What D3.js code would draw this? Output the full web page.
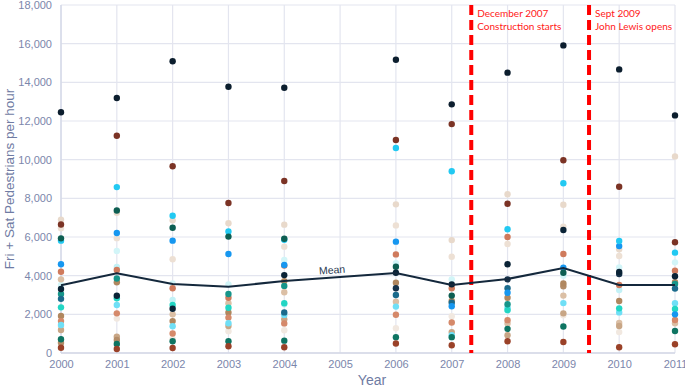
<!DOCTYPE html>
<html>
<head>
<meta charset="utf-8">
<script src="https://cdn.jsdelivr.net/npm/d3@7"></script>
<style>
  body { margin: 0; background: #fff; }
</style>
</head>
<body>
<div id="graph"></div>
<script>
// years on the x axis (no counts for 2005)
var years = [2000, 2001, 2002, 2003, 2004, 2005, 2006, 2007, 2008, 2009, 2010, 2011];
var yTicks = [0, 2000, 4000, 6000, 8000, 10000, 12000, 14000, 16000, 18000];

// one array per counting site, values per year (null = no count)
var navy       = [12450, 13190, 15090, 13770, 13720, null, 15170, 12860, 14500, 15910, 14670, 12290];
var brown      = [6650, 11240, 9660, 7760, 8900, null, 11020, 11840, 7720, 9970, 8600, 5730];
var cyan       = [5810, 8580, 7100, 6290, 5860, null, 10600, 9400, 6400, 8780, 5790, 5190];
var lightBeige = [6900, 7250, 6860, 6710, 6640, null, 7690, 5840, 8210, 7670, 5360, 10170];
var darkTeal   = [5930, 7370, 6480, 6020, 5910, null, 4460, 2970, null, 4150, null, null];
var blue       = [4590, 6210, 5810, 5120, 4550, null, 5760, 2420, 3120, 4410, 5530, 2000];
var paleBeige  = [6450, 5940, 4850, null, 5500, null, 6600, 4980, 5640, 6530, 5020, null];
var salmon     = [4200, 4290, 3350, 2860, 4520, null, 5100, 3350, 6000, 5120, 3520, 4260];
var paleCyan   = [3520, 5280, 3600, 3550, 4810, null, 4640, 3810, null, 4000, 4430, 4690];
var paleCyan2  = [null, 4450, 2740, null, 2520, null, null, null, 2200, null, 3260, null];
var navy2      = [3310, 2960, 2290, null, 4030, null, 4150, 3550, 4590, 6360, 4190, 3970];
var ink        = [null, null, null, null, null, null, 3350, null, 3810, null, 4090, null];
var tan        = [1910, 3660, 1650, 2100, 3720, null, 3640, 2690, 2860, 3600, 2690, 3660];
var teal       = [3050, 3850, null, 3050, 3470, null, null, null, 2520, null, null, 3570];
var tealBlue   = [2800, null, null, null, 2100, null, 3000, 2600, 3350, null, null, 3330];
var turquoise  = [2360, 2830, 2480, 2340, 2570, null, null, null, 2220, null, 2310, 2280];
var lightBlue  = [1450, 2480, 1380, 1540, 1970, null, 2400, 920, 2350, 2580, 2100, 2570];
var salmon2    = [1650, 2050, 1010, 1830, 1530, null, 1980, 1580, 1700, null, null, 1710];
var beige      = [3810, null, 2000, 2570, 3140, null, 2650, null, 1530, 2970, 1550, 1540];
var tan2       = [1190, 840, null, 1400, 1740, null, null, 1080, 920, 2050, 1400, null];
var tan3       = [530, 670, null, null, null, null, null, null, null, 3450, null, null];
var paleBeige3 = [1360, 1780, 730, 1130, 1180, null, 1280, 1900, null, 1950, 1080, null];
var darkTeal2  = [710, 470, 610, 610, 640, null, 820, 820, 1250, 1370, null, 1140];
var rust       = [270, 210, 260, 350, 300, null, 490, 400, 610, 570, 300, 450];

// mean of all sites per year
var meanValues = [3500, 4130, 3570, 3430, 3720, null, 4140, 3520, 3830, 4400, 3520, 3520];

// events marked with dashed lines (fractional year)
var events = [
  { year: 2007.35, lines: ["December 2007", "Construction starts"] },
  { year: 2009.46, lines: ["Sept 2009", "John Lewis opens"] }
];

var sites = [
  { values: paleBeige3, color: "#f1e8e0" },
  { values: paleCyan2,  color: "#c2f1f6" },
  { values: paleCyan,   color: "#d2f5f8" },
  { values: paleBeige,  color: "#ede0d4" },
  { values: lightBeige, color: "#e8d9cb" },
  { values: beige,      color: "#dbbfa5" },
  { values: tan2,       color: "#c8a686" },
  { values: tan3,       color: "#b38c68" },
  { values: tan,        color: "#b0875f" },
  { values: salmon2,    color: "#d5896a" },
  { values: salmon,     color: "#cf7a5c" },
  { values: lightBlue,  color: "#6fdff6" },
  { values: turquoise,  color: "#22d6c4" },
  { values: teal,       color: "#16958a" },
  { values: tealBlue,   color: "#1b6b8c" },
  { values: blue,       color: "#1697f0" },
  { values: cyan,       color: "#22c9f2" },
  { values: darkTeal2,  color: "#0e7462" },
  { values: darkTeal,   color: "#0d5e52" },
  { values: rust,       color: "#9a4128" },
  { values: brown,      color: "#7b3325" },
  { values: ink,        color: "#16324a" },
  { values: navy2,      color: "#0a2336" },
  { values: navy,       color: "#0c1e2e" }
];

var w = 685, h = 387;
var padLeft = 61, padRight = 675, padTop = 5, padBottom = 353;

var svg = d3.select("#graph").append("svg")
    .attr("width", w)
    .attr("height", h);

var xScale = d3.scaleLinear().domain([2000, 2011]).range([padLeft, padRight]);
var yScale = d3.scaleLinear().domain([0, 18000]).range([padBottom, padTop]);

// grid
svg.append("g").selectAll("line")
    .data(yTicks)
    .enter().append("line")
    .attr("x1", padLeft).attr("x2", padRight)
    .attr("y1", function(d) { return yScale(d); })
    .attr("y2", function(d) { return yScale(d); })
    .attr("stroke", "#e3e5ef")
    .attr("stroke-width", 1.2);

svg.append("g").selectAll("line")
    .data(years)
    .enter().append("line")
    .attr("x1", function(d) { return xScale(d); })
    .attr("x2", function(d) { return xScale(d); })
    .attr("y1", padTop).attr("y2", padBottom)
    .attr("stroke", "#e3e5ef")
    .attr("stroke-width", 1.2);

// axis lines
svg.append("line")
    .attr("x1", padLeft).attr("x2", padRight).attr("y1", padBottom).attr("y2", padBottom)
    .attr("stroke", "#d3d7e6").attr("stroke-width", 1.3);
svg.append("line")
    .attr("x1", padLeft).attr("x2", padLeft).attr("y1", padTop).attr("y2", padBottom)
    .attr("stroke", "#d3d7e6").attr("stroke-width", 1.3);

// axes
var yAxis = d3.axisLeft(yScale)
    .tickValues(yTicks)
    .tickFormat(d3.format(","))
    .tickSize(0)
    .tickPadding(9);

var xAxis = d3.axisBottom(xScale)
    .tickValues(years)
    .tickFormat(d3.format("d"))
    .tickSize(0)
    .tickPadding(7);

var gy = svg.append("g")
    .attr("transform", "translate(" + padLeft + ",0)")
    .call(yAxis);
var gx = svg.append("g")
    .attr("transform", "translate(0," + padBottom + ")")
    .call(xAxis);

[gx, gy].forEach(function(g) {
  g.select(".domain").remove();
  g.selectAll("text")
    .attr("fill", "#7b86ab")
    .style("font-family", "'Liberation Sans', Arial, sans-serif")
    .style("font-size", "11px");
});

// axis titles
svg.append("text")
    .attr("transform", "translate(9," + ((padTop + padBottom) / 2) + ") rotate(-90)")
    .attr("text-anchor", "middle")
    .attr("dy", "0.35em")
    .attr("fill", "#6f7ba3")
    .style("font-family", "'Liberation Sans', Arial, sans-serif")
    .style("font-size", "13.5px")
    .text("Fri + Sat Pedestrians per hour");

svg.append("text")
    .attr("x", (padLeft + padRight) / 2 + 4)
    .attr("y", 385)
    .attr("text-anchor", "middle")
    .attr("fill", "#6f7ba3")
    .style("font-family", "'Liberation Sans', Arial, sans-serif")
    .style("font-size", "14px")
    .text("Year");

// event lines
events.forEach(function(ev) {
  svg.append("line")
      .attr("x1", xScale(ev.year)).attr("x2", xScale(ev.year))
      .attr("y1", padTop).attr("y2", padBottom)
      .attr("stroke", "#ff0000")
      .attr("stroke-width", 4)
      .attr("stroke-dasharray", "10,5");

  var t = svg.append("text")
      .attr("x", xScale(ev.year) + 6)
      .attr("y", 17)
      .attr("fill", "#ff2020")
      .style("font-family", "Lato, 'Open Sans', sans-serif")
      .style("font-size", "10px");
  ev.lines.forEach(function(s, i) {
    t.append("tspan")
        .attr("x", xScale(ev.year) + 6)
        .attr("dy", i === 0 ? 0 : 12.5)
        .text(s);
  });
});

// site dots
var points = [];
sites.forEach(function(s) {
  s.values.forEach(function(v, i) {
    if (v != null) points.push({ year: years[i], value: v, color: s.color });
  });
});

svg.append("g").selectAll("circle")
    .data(points)
    .enter().append("circle")
    .attr("cx", function(d) { return xScale(d.year); })
    .attr("cy", function(d) { return yScale(d.value); })
    .attr("r", 3.2)
    .attr("fill", function(d) { return d.color; });

// mean line
var meanData = years.map(function(y, i) { return { year: y, value: meanValues[i] }; })
    .filter(function(d) { return d.value != null; });

var line = d3.line()
    .x(function(d) { return xScale(d.year); })
    .y(function(d) { return yScale(d.value); });

svg.append("path")
    .datum(meanData)
    .attr("d", line)
    .attr("fill", "none")
    .attr("stroke", "#14283c")
    .attr("stroke-width", 2);

// "Mean" label sitting on the line between 2004 and 2006
var a = meanData[4], b = meanData[5];
var angle = Math.atan2(yScale(b.value) - yScale(a.value), xScale(b.year) - xScale(a.year)) * 180 / Math.PI;
var lx = xScale(2004.86);
var ly = yScale(a.value + (b.value - a.value) * 0.43) - 4;
svg.append("text")
    .attr("transform", "translate(" + lx + "," + ly + ") rotate(" + angle + ")")
    .attr("text-anchor", "middle")
    .attr("fill", "#2a3a52")
    .style("font-family", "'Liberation Sans', Arial, sans-serif")
    .style("font-size", "10.5px")
    .text("Mean");
</script>
</body>
</html>
